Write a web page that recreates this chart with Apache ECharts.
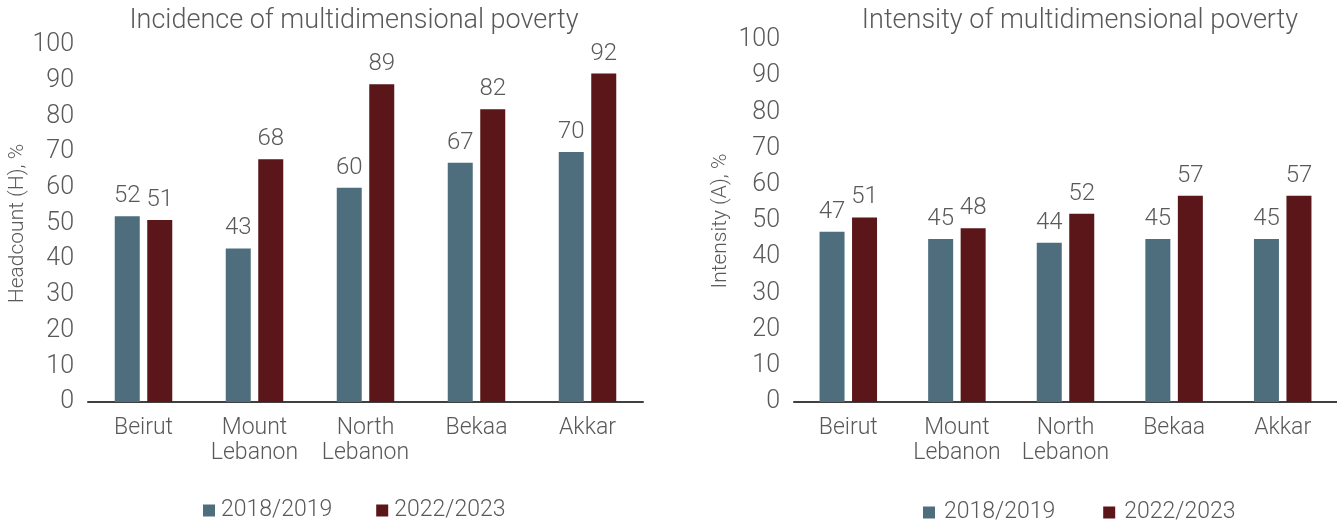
<!DOCTYPE html>
<html>
<head>
<meta charset="utf-8">
<script src="https://cdn.jsdelivr.net/npm/echarts@6/dist/echarts.min.js"></script>
<style>
  html, body { margin: 0; padding: 0; background: #fff; }
  #chart { width: 1337px; height: 523px; }
</style>
</head>
<body>
<div id="chart"></div>
<script>
// Regions of Lebanon
const regions = ['Beirut', 'Mount\nLebanon', 'North\nLebanon', 'Bekaa', 'Akkar'];
const periods = ['2018/2019', '2022/2023'];

// Incidence (headcount ratio H), %
const incidence2018 = [52, 43, 60, 67, 70];
const incidence2022 = [51, 68, 89, 82, 92];

// Intensity (A), %
const intensity2018 = [47, 45, 44, 45, 45];
const intensity2022 = [51, 48, 52, 57, 57];

const yTicks = { min: 0, max: 100, interval: 10 };

const FONT = 'Roboto, sans-serif';
const W = 300;
const TEXT = '#595959';
const BLUE = '#4e6e7e';
const RED = '#5a1619';

const chart = echarts.init(document.getElementById('chart'), null, { renderer: 'canvas' });

function xAxis(gridIndex) {
  return {
    type: 'category', gridIndex, data: regions,
    axisLine: { lineStyle: { color: '#404040', width: 2 } },
    axisTick: { show: false },
    axisLabel: { interval: 0, color: TEXT, fontFamily: FONT, fontWeight: W, fontSize: 23, lineHeight: 25, margin: 14 }
  };
}
function yAxis(gridIndex, name) {
  return {
    type: 'value', gridIndex, min: yTicks.min, max: yTicks.max, interval: yTicks.interval,
    name, nameLocation: 'middle', nameRotate: 90,
    nameGap: gridIndex === 0 ? 60 : 63,
    nameTextStyle: { color: TEXT, fontFamily: FONT, fontWeight: W, fontSize: 21 },
    axisLine: { show: false }, axisTick: { show: false },
    splitLine: { show: false },
    axisLabel: { color: TEXT, fontFamily: FONT, fontWeight: W, fontSize: 25, margin: 14 }
  };
}
function bars(name, data, color, idx) {
  return {
    type: 'bar', name, data, xAxisIndex: idx, yAxisIndex: idx,
    barWidth: 25, barGap: '30%',
    itemStyle: { color },
    label: { show: true, position: 'top', distance: 8, color: TEXT, fontFamily: FONT, fontWeight: W, fontSize: 24 }
  };
}

chart.setOption({
  animation: false,
  title: [
    { text: 'Incidence of multidimensional poverty', left: 349, top: 3, textAlign: 'center',
      textStyle: { color: TEXT, fontFamily: FONT, fontSize: 27, fontWeight: W } },
    { text: 'Intensity of multidimensional poverty', left: 1075, top: 3, textAlign: 'center',
      textStyle: { color: TEXT, fontFamily: FONT, fontSize: 27, fontWeight: W } }
  ],
  legend: [
    { data: periods, left: 198, top: 494, itemWidth: 12, itemHeight: 12, itemGap: 44, icon: 'rect',
      textStyle: { color: TEXT, fontFamily: FONT, fontWeight: W, fontSize: 23, padding: [0, 0, 0, 1] } },
    { data: periods, left: 918, top: 496, itemWidth: 12, itemHeight: 12, itemGap: 48, icon: 'rect',
      textStyle: { color: TEXT, fontFamily: FONT, fontWeight: W, fontSize: 23, padding: [0, 0, 0, 4] } }
  ],
  grid: [
    { left: 88, top: 45, width: 555, height: 357 },
    { left: 794, top: 40, width: 555, height: 362 }
  ],
  xAxis: [xAxis(0), xAxis(1)],
  yAxis: [yAxis(0, 'Headcount (H), %'), yAxis(1, 'Intensity (A), %')],
  series: [
    bars(periods[0], incidence2018, BLUE, 0),
    bars(periods[1], incidence2022, RED, 0),
    bars(periods[0], intensity2018, BLUE, 1),
    bars(periods[1], intensity2022, RED, 1)
  ]
});
</script>
</body>
</html>
